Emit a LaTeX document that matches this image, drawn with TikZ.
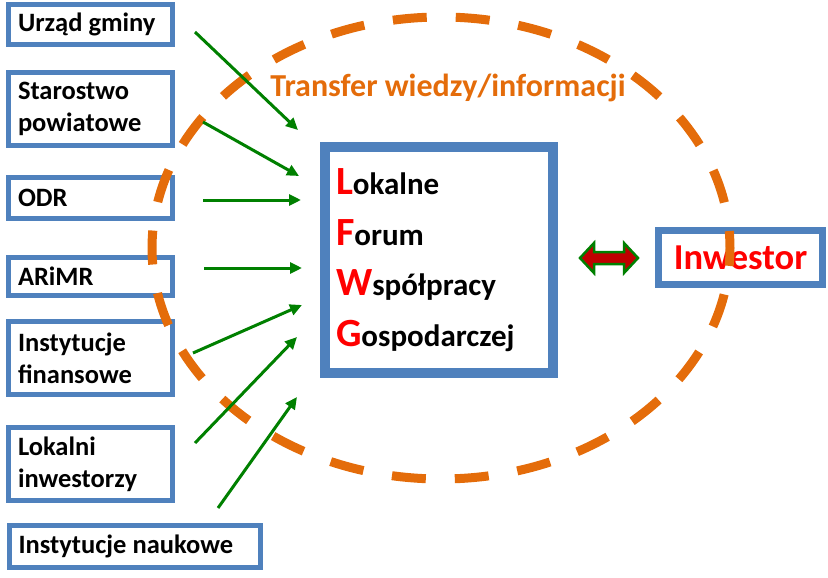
\documentclass[tikz,border=0pt]{standalone}
\usepackage{fontspec}
\setmainfont{Carlito}
\usetikzlibrary{arrows.meta}
\definecolor{boxblue}{HTML}{4F81BD}
\definecolor{dashorange}{HTML}{E46C0A}
\definecolor{arrgreen}{HTML}{008000}
\definecolor{dred}{HTML}{C00000}
\definecolor{capred}{HTML}{FF0000}
\newcommand\redcap[1]{{\color{capred}\fontsize{40}{50.5}\selectfont #1}}
\begin{document}
\begin{tikzpicture}[x=1pt,y=-1pt,
  srcbox/.style={draw=boxblue, line width=5pt, fill=white, rectangle,
    inner xsep=9.5pt, inner ysep=0pt, align=flush left, text width=145pt,
    font=\bfseries\fontsize{26.5}{32}\selectfont},
  feed/.style={draw=arrgreen, line width=3pt, -{Triangle[length=12pt,width=11pt]}}]
\useasboundingbox (0,0) rectangle (828,578);

% source boxes
\node[srcbox, minimum height=40pt] (urzad) at (90.5,24.5) {Urząd gminy};
\node[srcbox, minimum height=73pt] (staro) at (90.5,109) {Starostwo\\powiatowe};
\node[srcbox, minimum height=41pt] (odr) at (90.5,198) {ODR};
\node[srcbox, minimum height=38pt] (arimr) at (90.5,276.5) {ARiMR};
\node[srcbox, minimum height=73pt] (finans) at (90.5,358) {Instytucje\\finansowe};
\node[srcbox, minimum height=73pt] (lokinw) at (90.5,464) {Lokalni\\inwestorzy};
\node[srcbox, minimum height=42pt, text width=232.5pt] (nauk) at (134.75,546.5) {Instytucje naukowe};

% central forum box
\node[draw=boxblue, line width=10pt, fill=white, minimum width=228pt, minimum height=226pt,
  text width=206pt, inner xsep=11pt, align=flush left,
  font=\bfseries\fontsize{31}{50.5}\selectfont] (lfwg) at (439,260)
  {\redcap{L}okalne\\\redcap{F}orum\\\redcap{W}spółpracy\\\redcap{G}ospodarczej};

% investor box
\node[draw=boxblue, line width=7pt, fill=white, minimum width=164pt, minimum height=54pt,
  inner sep=0pt, text=capred, font=\bfseries\fontsize{36.5}{40}\selectfont] (inw) at (740.5,257.5)
  {Inwestor\hspace{12pt}};

% dashed ellipse
\draw[dashorange, line width=9pt, dash pattern=on 34pt off 29pt, dash phase=17pt]
  (441,248) ellipse [x radius=289pt, y radius=231pt];

% transfer label
\node[anchor=base, text=dashorange, font=\bfseries\fontsize{32}{36}\selectfont] (transfer)
  at (448,97) {Transfer wiedzy/informacji};

% arrow coordinates
\coordinate (s1) at (195,32);  \coordinate (t1) at (298,130);
\coordinate (s2) at (203,122); \coordinate (t2) at (299,176);
\coordinate (s3) at (203,200); \coordinate (t3) at (301,200);
\coordinate (s4) at (204,268); \coordinate (t4) at (302,268);
\coordinate (s5) at (193,353); \coordinate (t5) at (302,305);
\coordinate (s6) at (195,443); \coordinate (t6) at (297,337);
\coordinate (s7) at (218,508); \coordinate (t7) at (297,397);
\foreach \i in {1,...,7} \draw[feed] (s\i) -- (t\i);

% double arrow between forum and investor
\coordinate (dac) at (609,258);
\filldraw[fill=dred, draw=arrgreen, line width=2.5pt, line join=miter]
  ([shift={(-29,0)}]dac) -- ([shift={(-15,-15)}]dac) -- ([shift={(-15,-6)}]dac)
  -- ([shift={(15,-6)}]dac) -- ([shift={(15,-15)}]dac) -- ([shift={(29,0)}]dac)
  -- ([shift={(15,15)}]dac) -- ([shift={(15,6)}]dac) -- ([shift={(-15,6)}]dac)
  -- ([shift={(-15,15)}]dac) -- cycle;
\end{tikzpicture}
\end{document}
